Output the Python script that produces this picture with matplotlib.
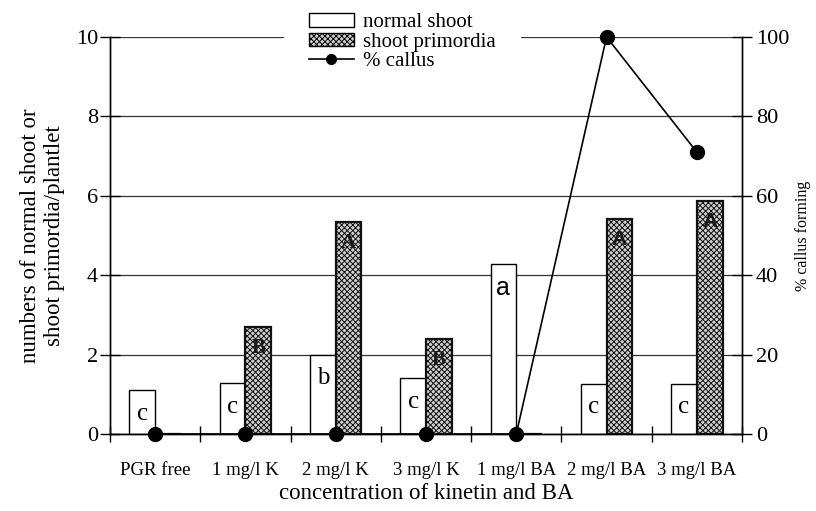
import matplotlib
matplotlib.use("Agg")
import matplotlib.pyplot as plt
import numpy as np
from matplotlib.lines import Line2D
from matplotlib.patches import Patch

categories = ["PGR free", "1 mg/l K", "2 mg/l K", "3 mg/l K", "1 mg/l BA", "2 mg/l BA", "3 mg/l BA"]
normal_shoot = [1.1, 1.28, 2.0, 1.41, 4.28, 1.27, 1.27]
shoot_primordia = [0, 2.7, 5.34, 2.4, 0, 5.42, 5.87]
callus = [0, 0, 0, 0, 0, 100, 71]
normal_letters = ["c", "c", "b", "c", "a", "c", "c"]
primordia_letters = ["", "B", "A", "B", "", "A", "A"]

plt.rcParams['hatch.linewidth'] = 0.7
plt.rcParams['hatch.color'] = '#3a3a3a'
serif = "Liberation Serif"
sans = "Liberation Sans"

fig = plt.figure(figsize=(8.16, 5.11), dpi=100)
ax = fig.add_axes([0.1348, 0.1507, 0.7745, 0.7769])
ax2 = ax.twinx()

x = np.arange(len(categories))
w = 0.285
ax.set_axisbelow(True)
ax.yaxis.grid(True, color='#333333', linewidth=0.9)
ax.bar(x - w, normal_shoot, width=w, align='edge', facecolor='white', edgecolor='black', linewidth=1.0, zorder=2)
ax.bar(x, shoot_primordia, width=w, align='edge', facecolor='#d0d0d0', edgecolor='#111111', linewidth=1.6, hatch='xxxxxx', zorder=2)

for i in range(len(categories)):
    lt = normal_letters[i]
    fam = sans if lt == "a" else serif
    ax.annotate(lt, (x[i] - w / 2, normal_shoot[i]), xytext=(0, -17), textcoords='offset points',
                ha='center', va='center', fontsize=18, family=fam, zorder=3)
    pl = primordia_letters[i]
    if pl:
        fam = sans if i >= 5 else serif
        ax.annotate(pl, (x[i] + w / 2, shoot_primordia[i]), xytext=(0, -15), textcoords='offset points',
                    ha='center', va='center', fontsize=15, family=fam, fontweight='bold', zorder=3, color='#1a1a1a')

ax2.plot(x, callus, color='black', linewidth=1.2, marker='o', markersize=10, zorder=5, clip_on=False)

ax.set_xlim(-0.5, len(categories) - 0.5)
ax.set_ylim(0, 10)
ax2.set_ylim(0, 100)
ax.set_yticks(np.arange(0, 11, 2))
ax2.set_yticks(np.arange(0, 101, 20))
ax.set_xticks(x)
ax.set_xticklabels(categories, family=serif, fontsize=13.5)
ax.set_xticks(np.arange(-0.5, len(categories), 1.0), minor=True)
ax.tick_params(axis='x', which='major', length=0, pad=20)
ax.tick_params(axis='x', which='minor', direction='inout', length=12, width=1)
ax.tick_params(axis='y', direction='inout', length=14, width=1, labelsize=16, pad=1.5)
ax2.tick_params(axis='y', direction='inout', length=14, width=1, labelsize=16, pad=3)
for lab in ax.get_yticklabels() + ax2.get_yticklabels():
    lab.set_family(serif)

for a in (ax, ax2):
    a.spines['top'].set_visible(False)
    for s in ('left', 'right', 'bottom'):
        a.spines[s].set_linewidth(1.0)

ax.set_xlabel("concentration of kinetin and BA", family=serif, fontsize=16.5, labelpad=3)
ax.set_ylabel("numbers of normal shoot or\nshoot primordia/plantlet", family=serif, fontsize=16.5, labelpad=8)
ax2.set_ylabel("% callus forming", family=serif, fontsize=11.5, labelpad=4)

handles = [Patch(facecolor='white', edgecolor='black', linewidth=1.0),
           Patch(facecolor='#d0d0d0', edgecolor='black', linewidth=1.0, hatch='xxxxxx'),
           Line2D([0], [0], color='black', linewidth=1.2, marker='o', markersize=7)]
leg = ax2.legend(handles, ["normal shoot", "shoot primordia", "% callus"], loc='center',
                 bbox_to_anchor=(0.462, 0.9865), prop={'family': serif, 'size': 15}, frameon=True,
                 fancybox=False, edgecolor='white', facecolor='white', framealpha=1,
                 handlelength=2.2, handleheight=0.6, labelspacing=0.02, borderpad=1.2, handletextpad=0.4)
leg.set_zorder(10)

fig.savefig("out.png", dpi=100)
